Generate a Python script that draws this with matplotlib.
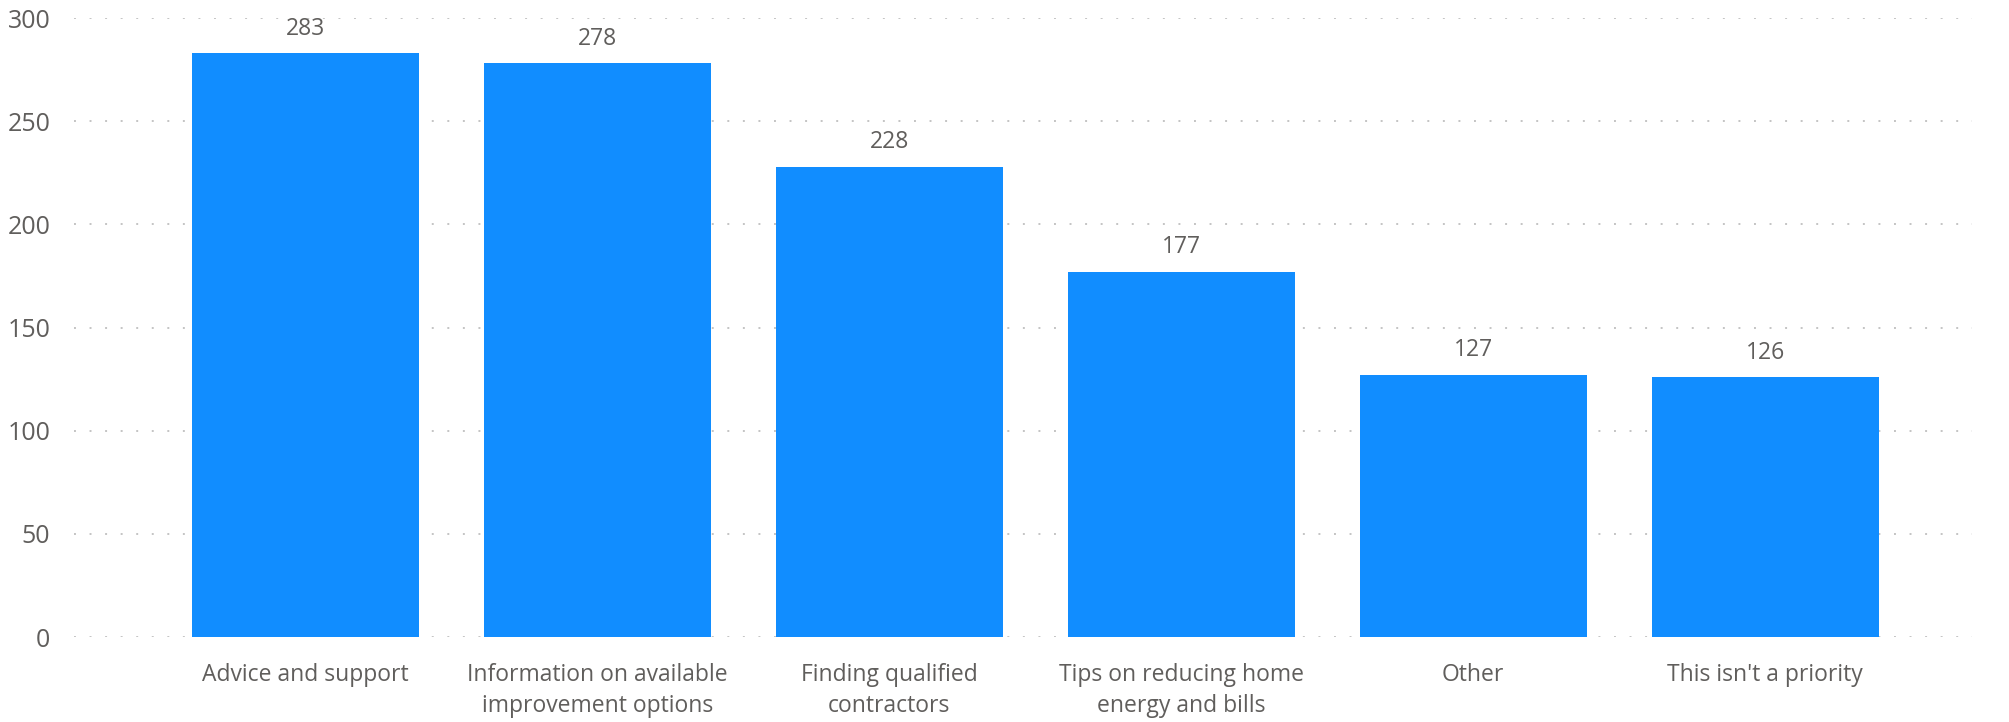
import numpy as np
import matplotlib
matplotlib.use("Agg")
import matplotlib.pyplot as plt

# DATA
categories = ["Advice and support", "Information on available\nimprovement options",
              "Finding qualified\ncontractors", "Tips on reducing home\nenergy and bills",
              "Other", "This isn't a priority"]
counts = [283, 278, 228, 177, 127, 126]
y_ticks = [0, 50, 100, 150, 200, 250, 300]

plt.rcParams["font.family"] = ["Open Sans", "DejaVu Sans"]
text_color = "#605E5C"
bar_color = "#118DFF"

fig = plt.figure(figsize=(20.09, 7.22), dpi=100)
ax = fig.add_axes([0.0368, 0.1177, 0.945, 0.8573])

x = np.arange(len(categories))
rects = ax.bar(x, counts, width=0.777, color=bar_color, zorder=2)

# value labels above bars
for rect, val in zip(rects, counts):
    ax.annotate(str(val), (rect.get_x() + rect.get_width() / 2, rect.get_height()),
                xytext=(0, 9), textcoords="offset points", ha="center", va="bottom",
                fontsize=16.5, color=text_color, annotation_clip=False)

ax.set_xlim(-0.793, 5.71)
ax.set_ylim(0, 300)
ax.set_yticks(y_ticks)
ax.set_xticks(x)
ax.set_xticklabels(categories, fontsize=16.5, color=text_color, linespacing=1.35)
ax.tick_params(axis="y", labelsize=18, labelcolor=text_color, length=0, pad=17)
ax.tick_params(axis="x", length=0, pad=19)

ax.grid(axis="y", linestyle=(0, (1, 7)), color="#C4C4C4", linewidth=1.4, zorder=1)
for s in ax.spines.values():
    s.set_visible(False)

for lab in ax.get_yticklabels():
    lab.set_clip_on(False)

fig.savefig("out.png", dpi=100)
